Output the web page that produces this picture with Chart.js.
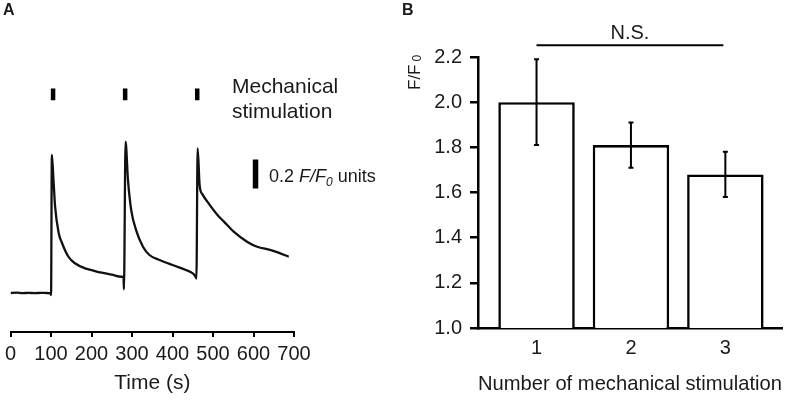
<!DOCTYPE html>
<html>
<head>
<meta charset="utf-8">
<script src="https://cdn.jsdelivr.net/npm/chart.js@4.4.1/dist/chart.umd.min.js"></script>
<style>
  html, body { margin: 0; padding: 0; background: #fff; }
  #wrap { position: relative; width: 787px; height: 400px; overflow: hidden; }
  #boxA { position: absolute; left: 0; top: 0; width: 400px; height: 400px; }
  #boxB { position: absolute; left: 360px; top: 0; width: 427px; height: 400px; }
</style>
</head>
<body>
<div id="wrap">
  <div id="boxA"><canvas id="traceChart"></canvas></div>
  <div id="boxB"><canvas id="barChart"></canvas></div>
</div>
<script>
// ---- Panel A: trace (time in s, F/F0) ----
const traceTime  = [0, 15, 30, 45, 60, 75, 90, 99, 100, 102, 106, 110, 119, 127, 143, 159, 184, 200, 225, 250, 274,
                    279, 280, 284, 290, 298, 310, 327, 343, 368, 400, 433, 450, 456,
                    459, 462, 467, 474, 486, 511, 527, 551, 584, 609, 641, 660, 687];
const traceValue = [1.0, 1.002, 0.999, 1.001, 0.999, 1.001, 1.0, 0.998, 0.986, 1.952, 1.779, 1.595, 1.412, 1.345, 1.25, 1.205, 1.17, 1.158, 1.14, 1.126, 1.112,
                    1.11, 1.026, 2.043, 1.779, 1.572, 1.434, 1.319, 1.262, 1.228, 1.193, 1.159, 1.135, 1.117,
                    1.10, 1.998, 1.74, 1.68, 1.63, 1.538, 1.492, 1.423, 1.354, 1.319, 1.297, 1.28, 1.25];
const stimTimes = [105, 283, 461];
const stimLevel = [2.33, 2.41];      // where the stimulation marks sit
const scaleBarTime = 605;
const scaleBarRange = [1.72, 1.92];  // 0.2 F/F0 units
const timeTicks = [0, 100, 200, 300, 400, 500, 600, 700];

// ---- Panel B: bars ----
const stimNumbers = ['1', '2', '3'];
const meanRatio = [2.0, 1.81, 1.68];
const semRatio  = [0.19, 0.10, 0.10];
const ratioTicks = [1.0, 1.2, 1.4, 1.6, 1.8, 2.0, 2.2];

const FONT = "'Liberation Sans', Arial, sans-serif";
Chart.defaults.font.family = FONT;
Chart.defaults.color = '#1a1a1a';

// texte du panneau A
const annotA = {
  id: 'annotA',
  afterDraw(chart) {
    const c = chart.ctx;
    c.save();
    c.fillStyle = '#1a1a1a';
    c.textBaseline = 'top';
    c.font = 'bold 16px ' + FONT;
    c.fillText('A', 3, 3);
    c.textBaseline = 'alphabetic';
    c.font = '21px ' + FONT;
    c.fillText('Mechanical', 232, 93);
    c.fillText('stimulation', 232, 118);
    let x = 269, y = 182;
    c.font = '18px ' + FONT;
    c.fillText('0.2 ', x, y); x += c.measureText('0.2 ').width;
    c.font = 'italic 18px ' + FONT;
    c.fillText('F/F', x, y); x += c.measureText('F/F').width;
    c.font = 'italic 12px ' + FONT;
    c.fillText('0', x, y + 4); x += c.measureText('0').width;
    c.font = '18px ' + FONT;
    c.fillText(' units', x, y);
    c.restore();
  }
};

const traceDatasets = [{
  data: traceTime.map((t, i) => ({ x: t, y: traceValue[i] })),
  borderColor: '#111',
  borderWidth: 2.3,
  pointRadius: 0,
  cubicInterpolationMode: 'monotone'
}];
stimTimes.forEach(t => traceDatasets.push({
  data: [{ x: t, y: stimLevel[0] }, { x: t, y: stimLevel[1] }],
  borderColor: '#000', borderWidth: 4.5, borderCapStyle: 'butt', pointRadius: 0
}));
traceDatasets.push({
  data: [{ x: scaleBarTime, y: scaleBarRange[0] }, { x: scaleBarTime, y: scaleBarRange[1] }],
  borderColor: '#000', borderWidth: 5.5, borderCapStyle: 'butt', pointRadius: 0
});

new Chart(document.getElementById('traceChart'), {
  type: 'line',
  data: { datasets: traceDatasets },
  options: {
    responsive: true,
    maintainAspectRatio: false,
    animation: false,
    layout: { padding: { left: 8, right: 106, top: 42, bottom: 0 } },
    plugins: { legend: { display: false }, tooltip: { enabled: false } },
    scales: {
      x: {
        type: 'linear', min: 0, max: 700,
        afterBuildTicks: s => { s.ticks = timeTicks.map(v => ({ value: v })); },
        afterFit: s => { s.height = 68; },
        grid: { drawOnChartArea: false, drawTicks: true, tickLength: 5, color: '#000', lineWidth: 2 },
        border: { display: true, color: '#000', width: 2 },
        ticks: { font: { size: 20 }, padding: 5, maxRotation: 0, autoSkip: false },
        title: { display: true, text: 'Time (s)', font: { size: 21 }, padding: { top: 0, bottom: 4 } }
      },
      y: { display: false, min: 0.731, max: 2.731 }
    }
  },
  plugins: [annotA]
});

// barres d'erreur + N.S. + titre y
const annotB = {
  id: 'annotB',
  afterDatasetsDraw(chart) {
    const c = chart.ctx;
    const meta = chart.getDatasetMeta(0);
    const ys = chart.scales.y, xs = chart.scales.x;
    c.save();
    c.strokeStyle = '#000';
    c.lineWidth = 2;
    meta.data.forEach((bar, i) => {
      const top = ys.getPixelForValue(meanRatio[i] + semRatio[i]);
      const bot = ys.getPixelForValue(meanRatio[i] - semRatio[i]);
      c.beginPath();
      c.moveTo(bar.x, top); c.lineTo(bar.x, bot);
      c.moveTo(bar.x - 2.5, top); c.lineTo(bar.x + 2.5, top);
      c.moveTo(bar.x - 2.5, bot); c.lineTo(bar.x + 2.5, bot);
      c.stroke();
    });
    // N.S.
    const x1 = xs.getPixelForValue(1), x3 = xs.getPixelForValue(3) - 2;
    const yLine = ys.getPixelForValue(2.252);
    c.beginPath();
    c.moveTo(x1, yLine); c.lineTo(x3, yLine);
    c.stroke();
    c.fillStyle = '#1a1a1a';
    c.font = '20px ' + FONT;
    c.textAlign = 'center';
    c.textBaseline = 'middle';
    c.fillText('N.S.', (x1 + x3) / 2, yLine - 12);
    // label B
    c.textAlign = 'left';
    c.textBaseline = 'top';
    c.font = 'bold 16px ' + FONT;
    c.fillText('B', 42, 3);
    // F/F0 vertical
    c.translate(60, 90);
    c.rotate(-Math.PI / 2);
    c.textBaseline = 'alphabetic';
    c.font = '17px ' + FONT;
    c.fillText('F/F', 0, 0);
    const w = c.measureText('F/F').width;
    c.font = '12px ' + FONT;
    c.fillText('0', w + 3, 1);
    c.restore();
  }
};

new Chart(document.getElementById('barChart'), {
  type: 'bar',
  data: {
    datasets: [{
      data: stimNumbers.map((n, i) => ({ x: Number(n), y: meanRatio[i] })),
      backgroundColor: '#fff',
      borderColor: '#000',
      borderWidth: 2.6,
      borderSkipped: false,
      barPercentage: 0.81,
      categoryPercentage: 1
    }]
  },
  options: {
    responsive: true,
    maintainAspectRatio: false,
    animation: false,
    layout: { padding: { left: 0, right: 5, top: 57, bottom: 0 } },
    plugins: { legend: { display: false }, tooltip: { enabled: false } },
    scales: {
      x: {
        type: 'linear', min: 0.38, max: 3.6, offset: false,
        afterBuildTicks: s => { s.ticks = stimNumbers.map(n => ({ value: Number(n) })); },
        afterFit: s => { s.height = 72; },
        grid: { display: false, drawTicks: false, offset: false },
        border: { display: true, color: '#000', width: 2.5 },
        ticks: { font: { size: 20 }, padding: 8, callback: v => stimNumbers[v - 1] },
        title: { display: true, text: 'Number of mechanical stimulation', font: { size: 21 }, padding: { top: 0, bottom: 3 } }
      },
      y: {
        min: 1.0, max: 2.2,
        afterBuildTicks: s => { s.ticks = ratioTicks.map(v => ({ value: v })); },
        afterFit: s => { s.width = 118; },
        grid: { drawOnChartArea: false, drawTicks: true, tickLength: 8, color: '#000', lineWidth: 2.5 },
        border: { display: true, color: '#000', width: 2.5 },
        ticks: { font: { size: 20 }, padding: 8, callback: v => v.toFixed(1) }
      }
    }
  },
  plugins: [annotB]
});
</script>
</body>
</html>
